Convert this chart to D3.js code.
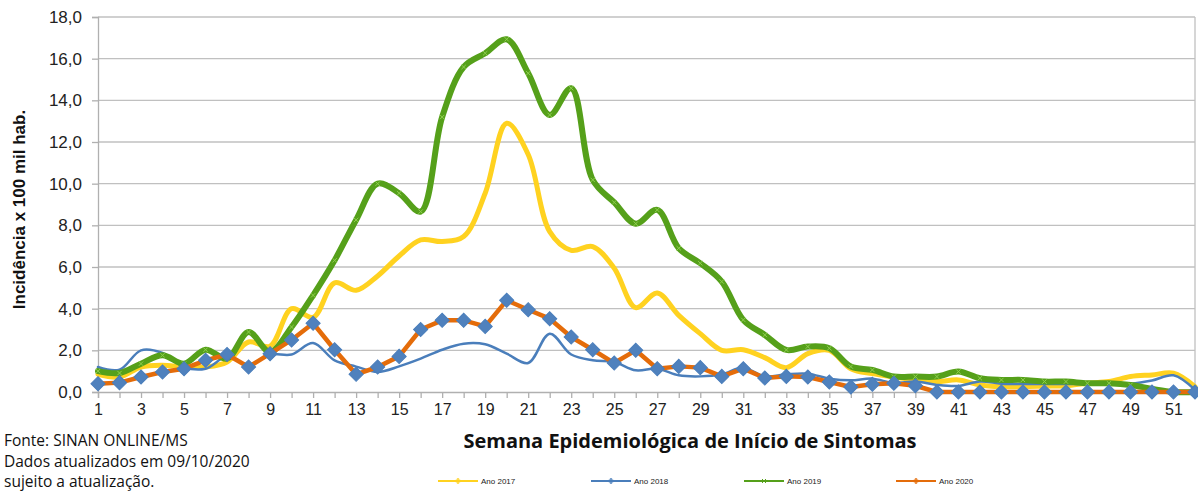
<!DOCTYPE html>
<html>
<head>
<meta charset="utf-8">
<script src="https://cdn.jsdelivr.net/npm/d3@7"></script>
<style>
  body { margin: 0; background: #fff; }
  svg { display: block; }
</style>
</head>
<body>
<div id="chart"></div>
<script>
"use strict";

// semanas epidemiológicas 1..52
const weeks = d3.range(1, 53);

const ano2017 = [0.85, 0.72, 1.2, 1.28, 1.2, 1.2, 1.44, 2.4, 2.2, 4.0, 3.58, 5.24, 4.88, 5.57, 6.53, 7.3,
  7.22, 7.46, 9.54, 12.9, 11.4, 7.7, 6.8, 6.98, 5.94, 4.05, 4.75, 3.68, 2.8, 2.0, 2.03, 1.65, 1.17,
  1.84, 2.0, 1.12, 0.88, 0.72, 0.58, 0.5, 0.58, 0.34, 0.26, 0.26, 0.28, 0.3, 0.42, 0.5, 0.74, 0.82, 0.9, 0.26];

const ano2018 = [1.2, 1.07, 2.0, 1.87, 1.2, 1.12, 1.7, 1.3, 1.8, 1.8, 2.35, 1.52, 1.22, 0.96, 1.23, 1.6,
  2.03, 2.32, 2.29, 1.84, 1.39, 2.8, 1.8, 1.52, 1.44, 1.04, 1.12, 0.8, 0.75, 0.85, 1.17, 0.75, 0.85,
  0.88, 0.64, 0.56, 0.64, 0.43, 0.5, 0.34, 0.29, 0.5, 0.4, 0.38, 0.38, 0.38, 0.38, 0.38, 0.4, 0.55, 0.8, 0.1];

const ano2019 = [1.0, 0.91, 1.36, 1.76, 1.36, 2.03, 1.6, 2.88, 1.92, 3.12, 4.64, 6.32, 8.26, 10.0, 9.54,
  8.66, 13.2, 15.6, 16.26, 16.93, 15.3, 13.3, 14.58, 10.18, 9.1, 8.08, 8.74, 6.9, 6.18, 5.3, 3.46, 2.74,
  2.02, 2.18, 2.1, 1.22, 1.06, 0.74, 0.74, 0.74, 0.98, 0.66, 0.58, 0.58, 0.5, 0.5, 0.42, 0.42, 0.34, 0.15, 0, 0];

const ano2020 = [0.4, 0.45, 0.72, 0.96, 1.12, 1.52, 1.8, 1.2, 1.84, 2.5, 3.3, 2.03, 0.85, 1.2, 1.71, 3.0,
  3.44, 3.44, 3.15, 4.4, 3.95, 3.52, 2.64, 2.03, 1.39, 2.0, 1.12, 1.23, 1.17, 0.75, 1.12, 0.67, 0.75,
  0.72, 0.48, 0.24, 0.37, 0.42, 0.3, 0, 0, 0, 0, 0, 0, 0, 0, 0, 0, 0, 0, 0];

const yTicks = [0, 2, 4, 6, 8, 10, 12, 14, 16, 18];

const seriesNames = ["Ano 2017", "Ano 2018", "Ano 2019", "Ano 2020"];

const fonte = [
  "Fonte: SINAN ONLINE/MS",
  "Dados atualizados em  09/10/2020",
  "sujeito a atualização."
];

const svgWidth = 1198;
const svgHeight = 494;
const plotLeft = 98;
const plotRight = 1195;
const plotTop = 17;
const plotBottom = 392;

const svg = d3.select("#chart")
  .append("svg")
  .attr("width", svgWidth)
  .attr("height", svgHeight);

const xScale = d3.scaleLinear().domain([1, 52]).range([plotLeft, plotRight]);
const yScale = d3.scaleLinear().domain([0, 18]).range([plotBottom, plotTop]);

const fmt = v => d3.format(".1f")(v).replace(".", ",");

// grade horizontal
svg.append("g")
  .selectAll("line")
  .data(yTicks.filter(t => t > 0))
  .enter()
  .append("line")
  .attr("x1", plotLeft)
  .attr("x2", plotRight)
  .attr("y1", d => yScale(d))
  .attr("y2", d => yScale(d))
  .attr("stroke", "#c0c0c0")
  .attr("stroke-width", 1.3);

// borda direita
svg.append("line")
  .attr("x1", plotRight).attr("x2", plotRight)
  .attr("y1", plotTop).attr("y2", plotBottom)
  .attr("stroke", "#c0c0c0").attr("stroke-width", 1.3);

// eixo Y
const yAxis = d3.axisLeft(yScale).tickValues(yTicks).tickFormat(fmt).tickSize(6).tickPadding(10);
const gy = svg.append("g")
  .attr("transform", `translate(${plotLeft}, 0)`)
  .call(yAxis);
gy.select(".domain").attr("stroke", "#b0b0b0").attr("stroke-width", 1.3);
gy.selectAll(".tick line").attr("stroke", "#b0b0b0").attr("stroke-width", 1.3);
gy.selectAll(".tick text")
  .attr("font-family", "'Liberation Sans', Arial, sans-serif")
  .attr("font-size", 17)
  .attr("fill", "#222");

// eixo X
const xAxis = d3.axisBottom(xScale).tickValues(weeks).tickFormat(d => d % 2 === 1 ? d : "").tickSize(6).tickPadding(6);
const gx = svg.append("g")
  .attr("transform", `translate(0, ${plotBottom})`)
  .call(xAxis);
gx.select(".domain").attr("stroke", "#b0b0b0").attr("stroke-width", 1.3);
gx.selectAll(".tick line").attr("stroke", "#b0b0b0").attr("stroke-width", 1.3);
gx.selectAll(".tick text")
  .attr("font-family", "'Liberation Sans', Arial, sans-serif")
  .attr("font-size", 16)
  .attr("fill", "#222");

// título eixo Y
svg.append("text")
  .attr("transform", `translate(25, ${(plotTop + plotBottom) / 2 + 5}) rotate(-90)`)
  .attr("text-anchor", "middle")
  .attr("font-family", "'Liberation Sans', Arial, sans-serif")
  .attr("font-weight", "bold")
  .attr("font-size", 17)
  .attr("fill", "#111")
  .text("Incidência x 100 mil hab.");

// título eixo X
svg.append("text")
  .attr("x", 690)
  .attr("y", 448)
  .attr("text-anchor", "middle")
  .attr("font-family", "'Open Sans', sans-serif")
  .attr("font-weight", "bold")
  .attr("font-size", 20)
  .attr("fill", "#111")
  .text("Semana Epidemiológica de Início de Sintomas");

// fonte
svg.append("g")
  .selectAll("text")
  .data(fonte)
  .enter()
  .append("text")
  .attr("x", 4)
  .attr("y", (d, i) => 446 + i * 20.5)
  .attr("font-family", "'Open Sans', sans-serif")
  .attr("font-size", 15.5)
  .attr("fill", "#111")
  .text(d => d);

const smooth = d3.line()
  .x((d, i) => xScale(weeks[i]))
  .y(d => yScale(d))
  .curve(d3.curveCatmullRom.alpha(0.5));

const straight = d3.line()
  .x((d, i) => xScale(weeks[i]))
  .y(d => yScale(d));

const series = [
  { name: seriesNames[0], values: ano2017, color: "#ffd220", width: 5, line: smooth },
  { name: seriesNames[1], values: ano2018, color: "#4a7ebb", width: 2.5, line: smooth },
  { name: seriesNames[2], values: ano2019, color: "#55a01a", width: 6, line: smooth },
  { name: seriesNames[3], values: ano2020, color: "#e46c0a", width: 4.5, line: straight }
];

series.forEach(s => {
  svg.append("path")
    .datum(s.values)
    .attr("fill", "none")
    .attr("stroke", s.color)
    .attr("stroke-width", s.width)
    .attr("stroke-linejoin", "round")
    .attr("stroke-linecap", "round")
    .attr("d", s.line);
});

// marcadores pequenos (x) da série 2019
svg.append("g")
  .selectAll("path")
  .data(ano2019)
  .enter()
  .append("path")
  .attr("transform", (d, i) => `translate(${xScale(weeks[i])}, ${yScale(d)})`)
  .attr("d", d3.symbol(d3.symbolX, 14))
  .attr("stroke", "#8fcf4f")
  .attr("stroke-width", 1)
  .attr("fill", "none");

// losangos azuis sobre a série 2020
svg.append("g")
  .selectAll("path")
  .data(ano2020)
  .enter()
  .append("path")
  .attr("transform", (d, i) => `translate(${xScale(weeks[i])}, ${yScale(d)}) rotate(45)`)
  .attr("d", d3.symbol(d3.symbolSquare, 100))
  .attr("fill", "#4f81bd")
  .attr("stroke", "#4a7ebb")
  .attr("stroke-width", 1);

// legenda
const legendX = [438, 591, 744, 896];
const legend = svg.append("g")
  .selectAll("g")
  .data(series)
  .enter()
  .append("g")
  .attr("transform", (d, i) => `translate(${legendX[i]}, 481)`);

legend.append("line")
  .attr("x1", 0).attr("x2", 40)
  .attr("stroke", d => d.color)
  .attr("stroke-width", 2);

legend.append("path")
  .attr("transform", "translate(20, 0)")
  .attr("d", (d, i) => d3.symbol(i === 2 ? d3.symbolX : d3.symbolCross, 12)())
  .attr("fill", "none")
  .attr("stroke", d => d.color)
  .attr("stroke-width", 1);

legend.append("text")
  .attr("x", 43)
  .attr("y", 3)
  .attr("font-family", "'Liberation Sans', Arial, sans-serif")
  .attr("font-size", 8)
  .attr("fill", "#222")
  .text(d => d.name);
</script>
</body>
</html>
